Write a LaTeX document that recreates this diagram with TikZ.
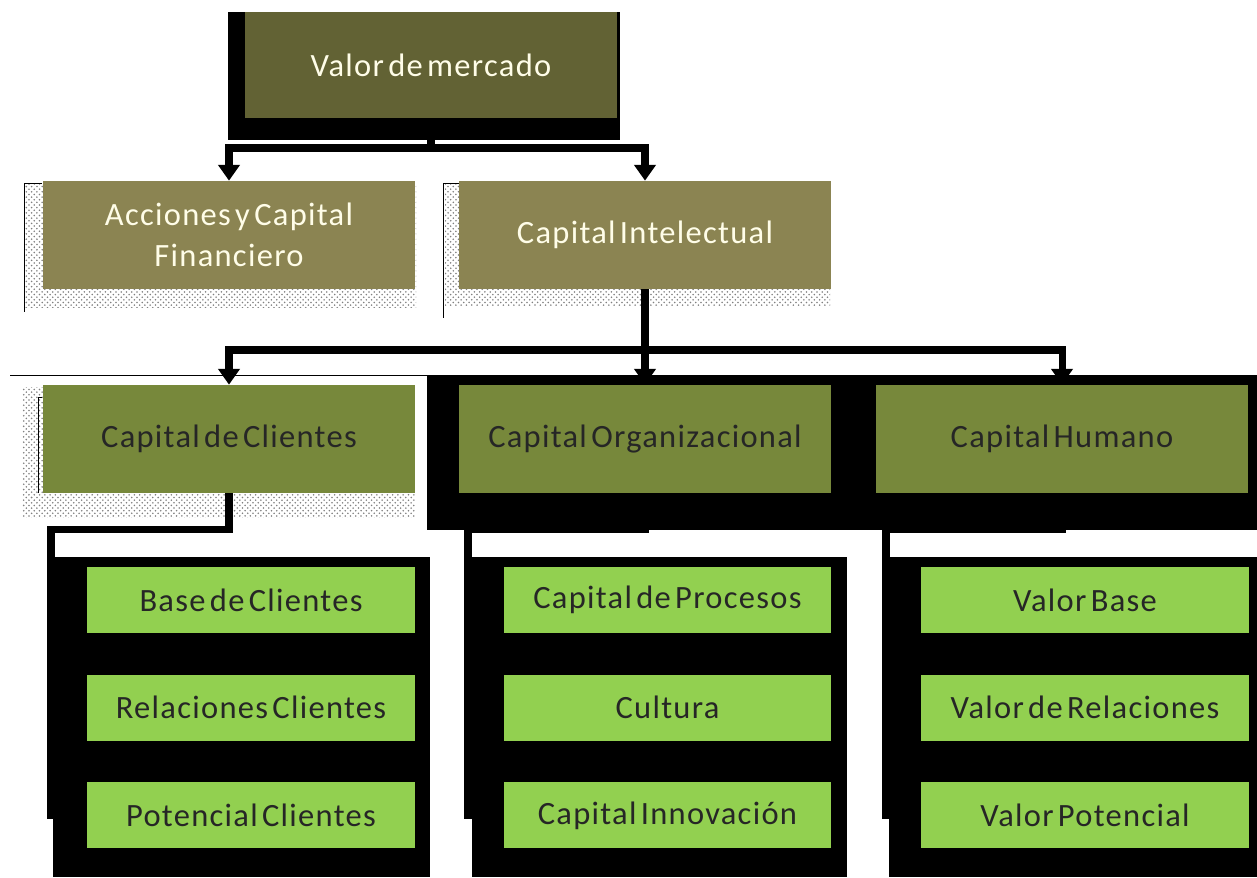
\documentclass[tikz,border=0pt]{standalone}
\usepackage{fontspec}
\setmainfont{Carlito}[LetterSpace = 4.0, WordSpace = 0.5]
\usetikzlibrary{positioning, arrows.meta, patterns}
\definecolor{mercado}{HTML}{626234}
\definecolor{khaki}{HTML}{8B8452}
\definecolor{olivo}{HTML}{77883B}
\definecolor{lima}{HTML}{92D050}
\definecolor{crema}{HTML}{FFFDE8}

\begin{document}
\begin{tikzpicture}[x = 0.02cm, y = -0.02cm, font = \fontsize{18.5}{23.5}\selectfont,
  box/.style = {minimum width = 7.46cm, minimum height = 2.16cm, inner sep = 0pt, align = center},
  leaf/.style = {fill = lima, text = black!85, minimum width = 6.56cm, minimum height = 1.32cm, inner sep = 0pt},
  link/.style = {line width = 4pt},
  arrowlink/.style = {link, -{Triangle[width = 12pt, length = 9pt]}},
  stipple/.style = {pattern = crosshatch dots, pattern color = gray}]
  \useasboundingbox (0,0) rectangle (1257,877);

  \fill (228,12) rectangle (620,140);
  \fill (427,375) rectangle (1257,530);
  \fill (53,557) rectangle (430,877);
  \fill (472,557) rectangle (847,877);
  \fill (889,557) rectangle (1257,877);
  \draw[thin] (10,375) -- (427,375);

  \fill[stipple] (25,183) rectangle (416,307);
  \draw[thin] (42,183) -| (24,312);
  \fill[stipple] (445,183) rectangle (830,305);
  \draw[thin] (459,183) -| (443,318);
  \fill[stipple] (22,387) rectangle (415,517);
  \draw[thin] (42,397) -| (38,493);

  \node (valor) [box, fill = mercado, text = crema, minimum height = 2.12cm] at (431,65) {Valor de mercado};
  \node (acciones) [box, fill = khaki, text = crema] at (229,235) {Acciones y Capital\\Financiero};
  \node (intelectual) [box, fill = khaki, text = crema] at (645,235) {Capital Intelectual};
  \node (clientes) [box, fill = olivo, text = black!85] at (229,439) {Capital de Clientes};
  \node (organizacional) [box, fill = olivo, text = black!85] at (645,439) {Capital Organizacional};
  \node (humano) [box, fill = olivo, text = black!85] at (1062,439) {Capital Humano};

  \node (baseclientes) [leaf] at (251,600) {Base de Clientes};
  \node (relclientes) [leaf, below = 0.82cm of baseclientes] {Relaciones Clientes};
  \node (potclientes) [leaf, below = 0.82cm of relclientes] {Potencial Clientes};
  \node (procesos) [leaf] at (667.5,600) {Capital de Procesos};
  \node (cultura) [leaf, below = 0.82cm of procesos] {Cultura};
  \node (innovacion) [leaf, below = 0.82cm of cultura] {Capital Innovación};
  \node (valorbase) [leaf] at (1085,600) {Valor Base};
  \node (valorrel) [leaf, below = 0.82cm of valorbase] {Valor de Relaciones};
  \node (valorpot) [leaf, below = 0.82cm of valorrel] {Valor Potencial};

  \coordinate (vbus) at (431,148);
  \draw[link] (valor.south) -- (vbus);
  \draw[arrowlink] (vbus) -| (acciones.north);
  \draw[arrowlink] (vbus) -| (intelectual.north);

  \coordinate (ibus) at (645,350);
  \draw[arrowlink] (intelectual.south) -- (organizacional.north);
  \draw[arrowlink] (ibus) -| (clientes.north);
  \draw[arrowlink] (ibus) -| (humano.north);

  \coordinate (cbend) at (51,529);
  \draw[link] (clientes.south) |- (cbend) |- (potclientes.west);
  \draw[link] (cbend) |- (baseclientes.west);
  \draw[link] (cbend) |- (relclientes.west);

  \coordinate (obend) at (468,529);
  \draw[link] (organizacional.south) |- (obend) |- (innovacion.west);
  \draw[link] (obend) |- (procesos.west);
  \draw[link] (obend) |- (cultura.west);

  \coordinate (hbend) at (886,529);
  \draw[link] (humano.south) |- (hbend) |- (valorpot.west);
  \draw[link] (hbend) |- (valorbase.west);
  \draw[link] (hbend) |- (valorrel.west);
\end{tikzpicture}
\end{document}
